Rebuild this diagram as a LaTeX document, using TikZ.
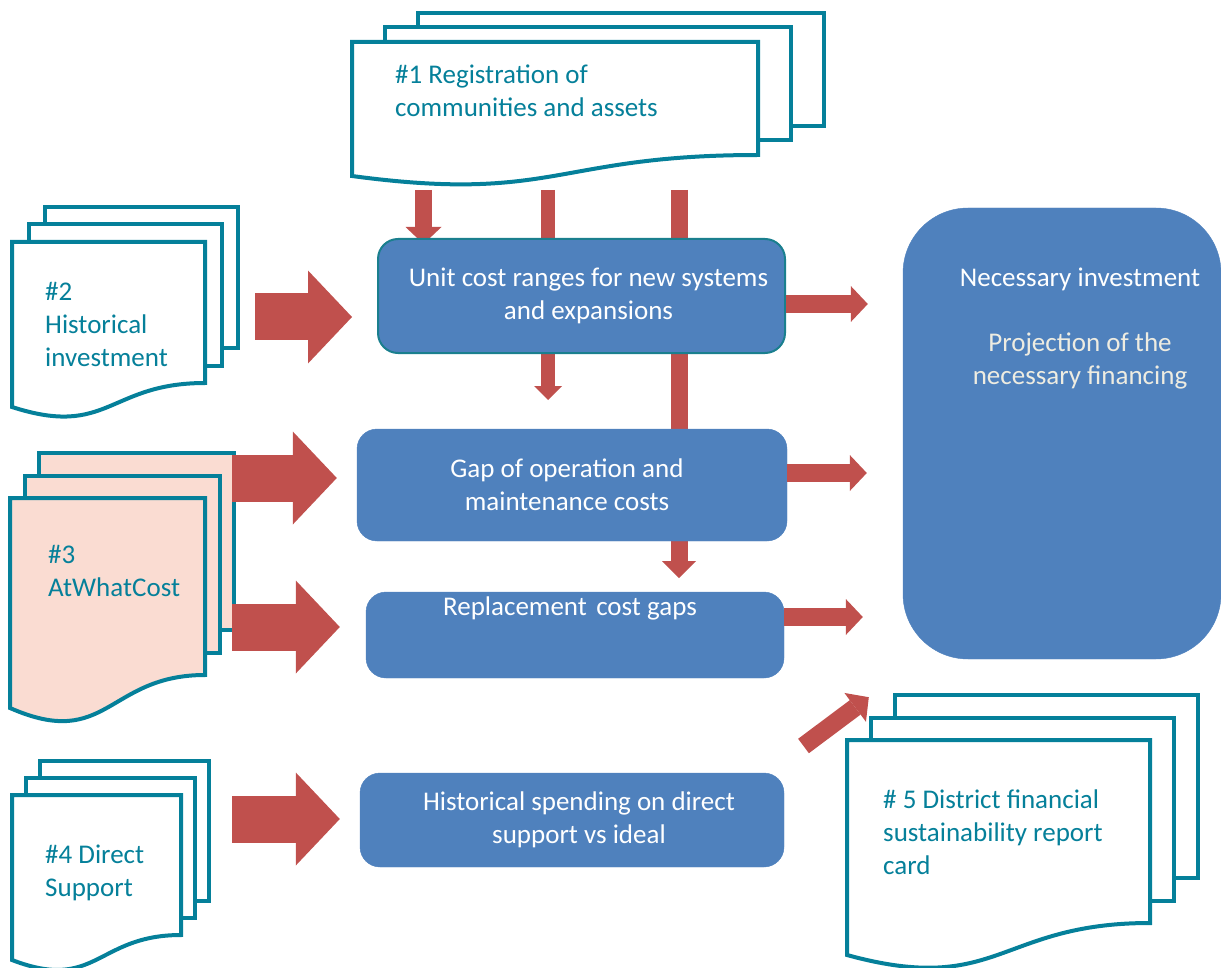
\documentclass[tikz,border=0pt]{standalone}
\usepackage{fontspec}
\setmainfont{Carlito}
\usetikzlibrary{arrows.meta,calc,backgrounds}
\definecolor{docteal}{HTML}{05809A}
\definecolor{unitline}{HTML}{1A7F8E}
\definecolor{boxblue}{HTML}{4F81BD}
\definecolor{flowred}{HTML}{C0504D}
\definecolor{peach}{HTML}{FADCD2}
\definecolor{paletext}{HTML}{EEECE1}
\tikzset{
  docline/.style={draw=docteal,line width=4pt,line join=miter},
  doctext/.style={text=docteal,font=\fontsize{27}{33}\selectfont,align=left,anchor=north west,inner sep=0pt},
  stepbox/.style={fill=boxblue,draw=boxblue,rounded corners=20pt,text=white,font=\fontsize{27}{33}\selectfont,align=center},
  bigflow/.style={draw=flowred,line width=47pt,-{Triangle[length=44pt,width=93pt,line width=0pt]}},
  smallflow/.style={draw=flowred,line width=18pt,-{Triangle[length=17pt,width=36pt,line width=0pt]}}
}
% stack of three pages: left, top, right, bottom right, bottom left, dx, dy, fill
\newcommand{\docstack}[8]{%
  \foreach \k in {2,1}
    \filldraw[docline,fill=#8] ({#1+\k*#6},{#2-\k*#7}) rectangle ({#3+\k*#6},{#4-\k*#7});
  \filldraw[docline,fill=#8] (#1,#2) -- (#3,#2) -- (#3,#4)
    .. controls ({(#1+#3)/2},#4) and ({(#1+#3)/2},{#4+2.3*(#5-#4)}) .. (#1,#5) -- cycle;
}

\begin{document}
\begin{tikzpicture}[x=1pt,y=-1pt]
  \useasboundingbox (0,0) rectangle (1221,968);

  % source documents
  \docstack{352}{42}{758}{155}{176}{33}{14.5}{white}
  \docstack{12}{242}{205}{383}{407}{16.5}{17.5}{white}
  \docstack{10}{498}{205}{675}{708}{14.5}{22.5}{peach}
  \docstack{12}{795}{181}{935}{960}{14}{17}{white}
  \docstack{847}{740}{1150}{923}{955}{24}{22.5}{white}

  \node[doctext] (d1) at (395,65) {\#1 Registration of\\communities and assets};
  \node[doctext] (d2) at (45,282) {\#2\\Historical\\investment};
  \node[doctext] (d3) at (48,545) {\#3\\AtWhatCost};
  \node[doctext] (d4) at (45,845) {\#4 Direct\\Support};
  \node[doctext] (d5) at (883,790) {\# 5 District financial\\sustainability report\\card};

  % analysis boxes
  \node[stepbox,draw=unitline,line width=2pt,minimum width=407pt,minimum height=114pt] (unit) at (581.5,296) {\hspace*{14pt}Unit cost ranges for new systems\\\hspace*{14pt}and expansions};
  \node[stepbox,minimum width=430pt,minimum height=112pt] (gap) at (572,485) {Gap of operation and\hspace*{10pt}\\maintenance costs\hspace*{10pt}};
  \node[stepbox,minimum width=418pt,inner ysep=0pt,text height=23pt,text depth=63pt] (repl) at (575,635) {Replacement\hspace{0.12em} cost gaps\hspace*{10pt}};
  \node[stepbox,minimum width=424pt,minimum height=94pt] (hist) at (572,820) {\hspace*{14pt}Historical spending on direct\\\hspace*{14pt}support vs ideal};
  \node[stepbox,rounded corners=65pt,minimum width=318pt,minimum height=451pt,
    label={[name=needtext,text=white,font=\fontsize{27}{33}\selectfont,align=center,anchor=north,inner sep=0pt,xshift=18pt,yshift=-60pt]north:{Necessary investment\\[32pt]\textcolor{paletext}{Projection of the}\\\textcolor{paletext}{necessary financing}}}] (need) at (1062,433.5) {};

  % arrow starts
  \coordinate (d1a) at (423.5,190);
  \coordinate (d1b) at (548,190);
  \coordinate (d1c) at (679,190);
  \coordinate (d2out) at (255,317);
  \coordinate (d3up) at (232,478);
  \coordinate (d3low) at (232,627);
  \coordinate (d4out) at (232,819);
  \coordinate (d5out) at (803.5,746);

  \begin{scope}[on background layer]
    \draw[smallflow,line width=17pt] (d1a) -- ($(d1a |- unit.north)+(0,6)$);
    \draw[smallflow,line width=14pt,-{Triangle[length=14pt,width=28pt,line width=0pt]}] (d1b) -- ($(d1b |- unit.south)+(0,46)$);
    \draw[smallflow,line width=17pt,-{Triangle[length=17pt,width=34pt,line width=0pt]}] (d1c) -- ($(d1c |- gap.south)+(0,37)$);
  \end{scope}

  \draw[bigflow] (d2out) -- ($(d2out -| unit.west)+(-25,0)$);
  \draw[bigflow] (d3up) -- ($(d3up -| gap.west)+(-20,0)$);
  \draw[bigflow] (d3low) -- ($(d3low -| repl.west)+(-26,0)$);
  \draw[bigflow] (d4out) -- ($(d4out -| hist.west)+(-20,0)$);

  \draw[smallflow] ($(unit.east)+(0,8)$) -- ($(unit.east -| need.west)+(-35,8)$);
  \draw[smallflow] ($(gap.east)+(0,-12)$) -- ($(gap.east -| need.west)+(-36,-12)$);
  \draw[smallflow] ($(repl.east)+(0,-18)$) -- ($(repl.east -| need.west)+(-40,-18)$);
  \draw[smallflow] (d5out) -- ($(need.south west)+(-34,38)$);
\end{tikzpicture}
\end{document}
